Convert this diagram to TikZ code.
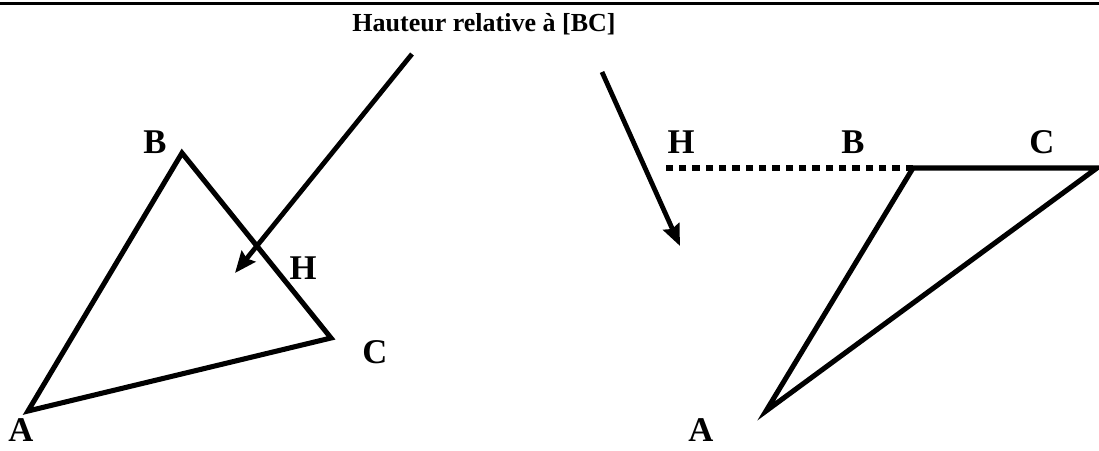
\documentclass[tikz,border=0pt]{standalone}
\usepackage{fontspec}
\setmainfont{Liberation Serif}
\usepackage{tikz}
\usetikzlibrary{arrows.meta}

\tikzset{
  side/.style={line width=3.8pt, line join=miter},
  pointer/.style={line width=3.6pt, -{Stealth[length=16pt, width=13pt, inset=2pt]}},
  vlabel/.style={anchor=base, font=\fontsize{26pt}{26pt}\selectfont\bfseries, inner sep=0pt},
}

\begin{document}
\begin{tikzpicture}[x=0.75pt, y=-0.75pt]
  \useasboundingbox (0,0) rectangle (1099,450);

  % top rule and title
  \draw[line width=2.4pt] (0,3.5) -- (1099,3.5);
  \node[anchor=base, font=\fontsize{19.5pt}{19.5pt}\selectfont\bfseries, inner sep=0pt]
    (title) at (484,31) {Hauteur relative à [BC]};

  % left triangle (acute)
  \coordinate (A1) at (28,411);
  \coordinate (B1) at (182,153);
  \coordinate (C1) at (331,338);
  \draw[side] (A1) -- (B1) -- (C1) -- cycle;
  \node[vlabel] (labA1) at (21,441) {A};
  \node[vlabel] (labB1) at (155,153) {B};
  \node[vlabel] (labC1) at (375,363) {C};
  \node[vlabel] (labH1) at (303,279) {H};

  % right triangle (obtuse at B)
  \coordinate (A2) at (766,411);
  \coordinate (B2) at (913,168);
  \coordinate (C2) at (1097,168);
  \coordinate (H2) at (660,168);
  \draw[side] (A2) -- (B2) -- (C2) -- cycle;
  \draw[line width=4pt, dash pattern=on 5.5pt off 4.5pt] (B2) -- (H2);
  \node[vlabel] (labA2) at (701,441) {A};
  \node[vlabel] (labB2) at (853,153) {B};
  \node[vlabel] (labC2) at (1042,153) {C};
  \node[vlabel] (labH2) at (681,153) {H};

  % arrows from the title
  \coordinate (s1) at (412,54);
  \coordinate (t1) at (235,273);
  \coordinate (s2) at (602,72);
  \coordinate (t2) at (680,246);
  \draw[pointer] (s1) -- (t1);
  \draw[pointer] (s2) -- (t2);
\end{tikzpicture}
\end{document}
